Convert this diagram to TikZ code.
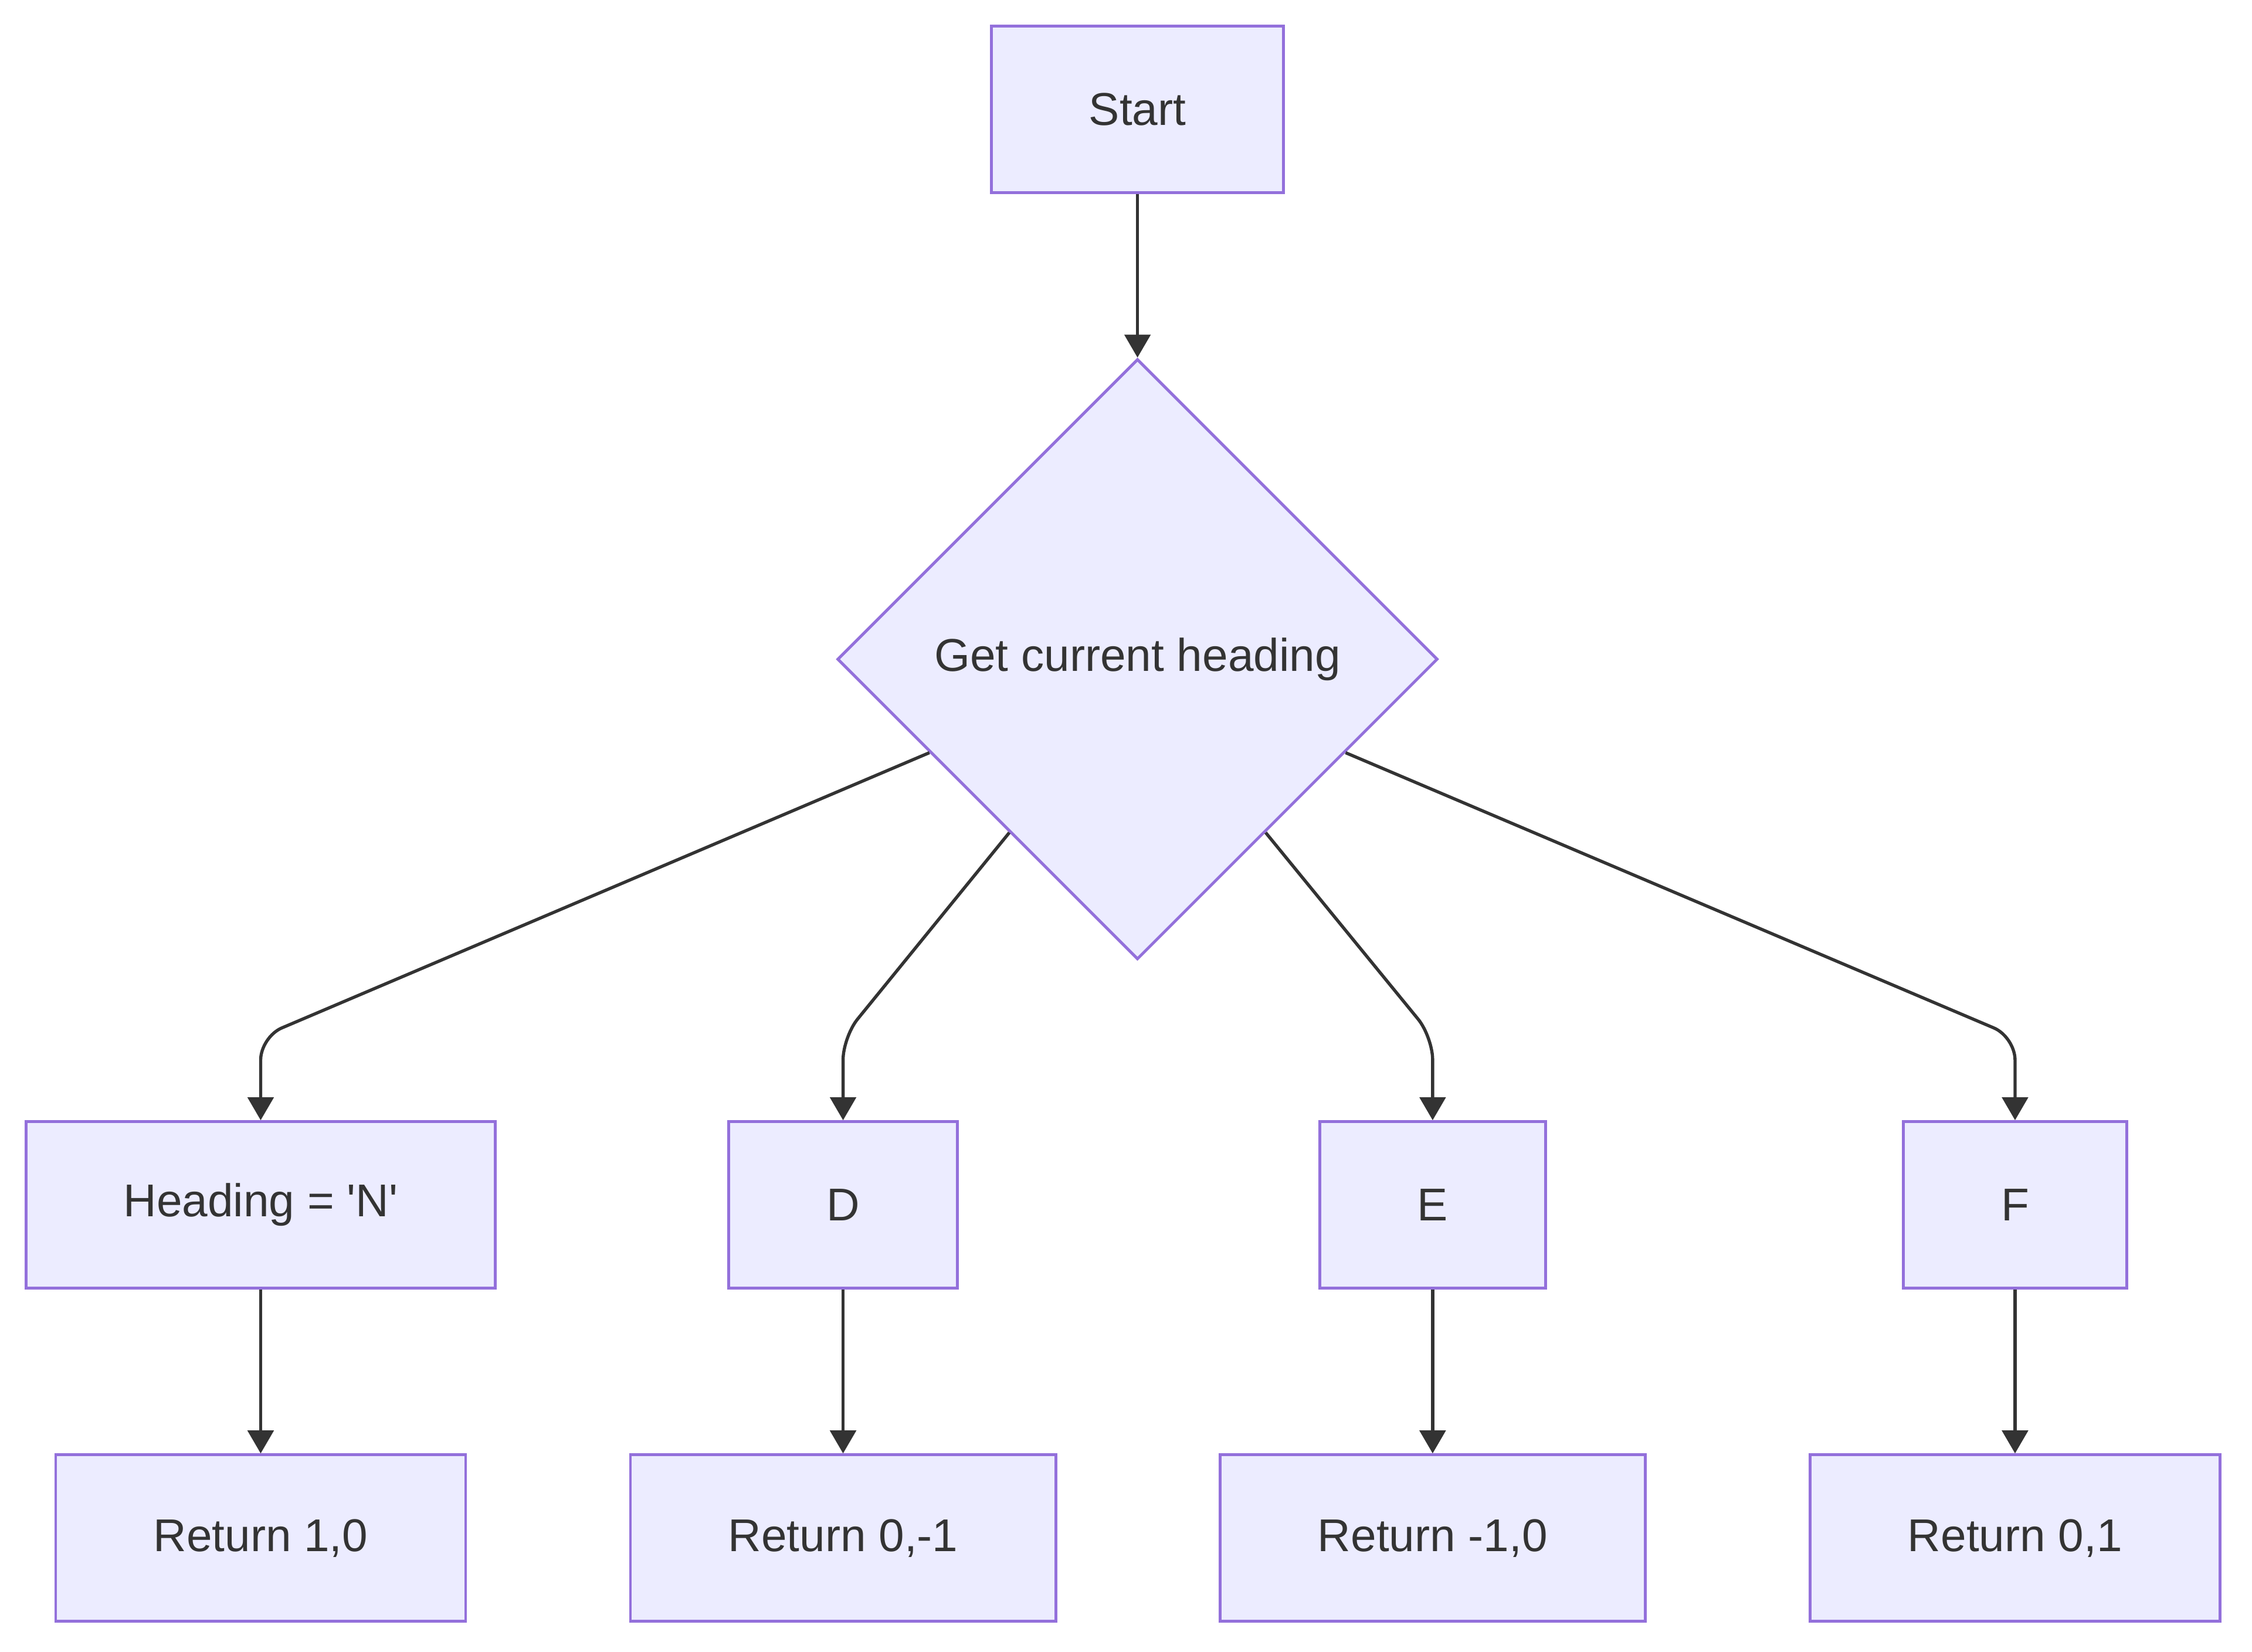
\documentclass[tikz,border=0pt]{standalone}
\usepackage{fontspec}
\setmainfont{Liberation Sans}
\usetikzlibrary{positioning,shapes.geometric,arrows.meta,calc}
\definecolor{boxfill}{HTML}{ECECFF}
\definecolor{boxline}{HTML}{9370DB}
\definecolor{ink}{HTML}{333333}

\begin{document}
\begin{tikzpicture}[x=0.5pt, y=-0.5pt, node distance=57pt]

	% Define basic styles
	\tikzset{
		box/.style={
			rectangle, draw=boxline, line width=1pt,
			fill=boxfill, text=ink,
			minimum height=58pt, inner xsep=34pt,
			font=\fontsize{16pt}{19pt}\selectfont
		},
		decision/.style={
			diamond, aspect=1, draw=boxline, line width=1pt,
			fill=boxfill, text=ink, inner sep=0pt,
			minimum width=209pt, minimum height=209pt,
			font=\fontsize{16pt}{19pt}\selectfont
		},
		arrow/.style={
			line width=1.1pt, draw=ink, rounded corners=8pt,
			-{Triangle[length=8pt,width=9pt]}
		}
	}

	\useasboundingbox (0,0) rectangle (1568,1150);

	% Nodes
	\node[box] (start) at (792,76) {Start};
	\node[decision, below=of start] (decide) {Get current heading};
	\node[box] (headN) at (181.5,839) {Heading = \textquotesingle N\textquotesingle};
	\node[box] (headD) at (587,839) {D};
	\node[box] (headE) at (997.5,839) {E};
	\node[box] (headF) at (1403,839) {F};
	\node[box, below=of headN] (retN) {Return 1,0};
	\node[box, below=of headD] (retD) {Return 0,-1};
	\node[box, below=of headE] (retE) {Return -1,0};
	\node[box, below=of headF] (retF) {Return 0,1};

	% Arrows
	\draw[arrow] (start) -- (decide);
	\draw[arrow] ($(decide.west)!0.31!(decide.south)$) -- ([yshift=29pt]headN.north) -- (headN.north);
	\draw[arrow] ($(decide.west)!0.575!(decide.south)$) -- ([yshift=29pt]headD.north) -- (headD.north);
	\draw[arrow] ($(decide.east)!0.575!(decide.south)$) -- ([yshift=29pt]headE.north) -- (headE.north);
	\draw[arrow] ($(decide.east)!0.31!(decide.south)$) -- ([yshift=29pt]headF.north) -- (headF.north);
	\draw[arrow] (headN) -- (retN);
	\draw[arrow] (headD) -- (retD);
	\draw[arrow] (headE) -- (retE);
	\draw[arrow] (headF) -- (retF);

\end{tikzpicture}
\end{document}
